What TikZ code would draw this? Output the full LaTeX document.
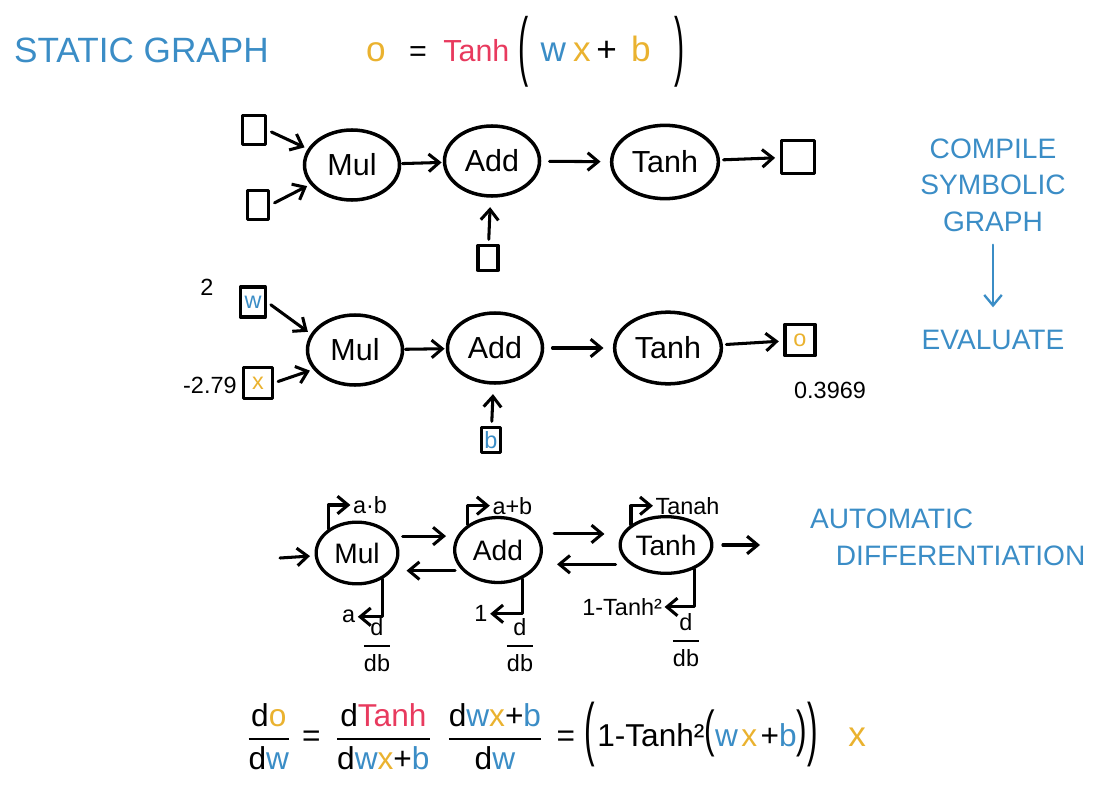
\documentclass[tikz,border=0pt]{standalone}
\usepackage{amsmath}
\usepackage{graphicx}
\usepackage{fontspec}
\setmainfont{Liberation Sans}
\usetikzlibrary{shapes.geometric,arrows.meta,positioning}
\definecolor{skblue}{HTML}{3B8DC6}
\definecolor{skred}{HTML}{E83A5E}
\definecolor{skyel}{HTML}{EAB22F}
\newcommand{\tallparen}[3]{\raisebox{#1}{\scalebox{1}[#2]{#3}}}
\newcommand{\dfr}[3][1.8pt]{\(\genfrac{}{}{#1}{0}{\mbox{#2}}{\mbox{#3}}\)}
\begin{document}
\begin{tikzpicture}[x=0.03cm,y=-0.03cm,>={Straight Barb[length=9pt,width=15pt]},
  line cap=round,line join=round,
  op/.style={draw,ellipse,line width=3pt,inner sep=0pt,minimum width=2.85cm,
    minimum height=2.1cm,font=\fontsize{26}{28}\selectfont},
  smallop/.style={op,line width=2.8pt,minimum width=2.45cm,minimum height=1.85cm,font=\fontsize{24}{26}\selectfont},
  val/.style={draw,line width=2.6pt,inner sep=0pt,font=\fontsize{20}{22}\selectfont},
  flow/.style={->,line width=2.6pt},
  note/.style={font=\fontsize{20}{22}\selectfont,inner sep=1pt},
  caps/.style={text=skblue,font=\fontsize{24}{31}\selectfont,align=center}]
 \useasboundingbox (0,0) rectangle (1102,788);

 % heading and the model
 \node[caps,anchor=west,font=\fontsize{30}{32}\selectfont] (static) at (10,50) {STATIC GRAPH};
 \node[anchor=west,font=\fontsize{26}{28}\selectfont] (model) at (362,52)
  {{\fontsize{30}{32}\selectfont\textcolor{skyel}{o}}\hspace{20pt}=\hspace{14pt}\textcolor{skred}{Tanh}\hspace{8pt}\tallparen{-9pt}{2.5}{(}\hspace{10pt}%
   {\fontsize{30}{32}\selectfont\textcolor{skblue}{w}\hspace{6pt}\textcolor{skyel}{x}\hspace{5pt}+\hspace{12pt}\textcolor{skyel}{b}}\hspace{20pt}\tallparen{-9pt}{2.5}{)}};

 % symbolic graph
 \node[op] (mul1) at (352,165) {Mul};
 \node[op] (add1) at (492,161) {Add};
 \node[op,minimum width=3.2cm,minimum height=2.2cm] (tanh1) at (665,162) {Tanh};
 \node[val,minimum width=0.7cm,minimum height=0.85cm] (w1) at (254,130) {};
 \node[val,minimum width=0.65cm,minimum height=0.85cm] (x1) at (258,205) {};
 \node[val,minimum width=0.6cm,minimum height=0.75cm] (b1) at (488,258) {};
 \node[val,minimum width=1cm,minimum height=1cm] (o1) at (798,157) {};
 \draw[flow,shorten <=4pt,shorten >=3pt] (w1.east) -- (mul1.160);
 \draw[flow,shorten <=4pt,shorten >=3pt] (x1.east) -- (mul1.205);
 \draw[flow,shorten <=1pt,shorten >=1pt] (mul1) -- (add1);
 \draw[flow,shorten <=7pt,shorten >=8pt] (add1) -- (tanh1);
 \draw[flow,shorten <=3pt,shorten >=4pt] (tanh1) -- (o1);
 \draw[flow,shorten <=4pt,shorten >=8pt] (b1) -- (add1);

 % evaluated graph
 \node[op] (mul2) at (355,350) {Mul};
 \node[op] (add2) at (495,348) {Add};
 \node[op,minimum width=3.2cm,minimum height=2.15cm] (tanh2) at (668,348) {Tanh};
 \node[val,minimum width=0.75cm,minimum height=0.9cm,text=skblue] (w2) at (253,302) {w};
 \node[val,minimum width=0.85cm,minimum height=0.95cm,text=skyel] (x2) at (258,383) {x};
 \node[val,minimum width=0.55cm,minimum height=0.75cm,text=skblue] (b2) at (491,440) {b};
 \node[val,minimum width=0.9cm,minimum height=0.95cm,text=skyel] (o2) at (800,340) {o};
 \node[note] (wval) at (207,287) {2};
 \node[note,anchor=east] (xval) at (238,385) {-2.79};
 \node[note] (oval) at (830,390) {0.3969};
 \draw[flow,shorten <=4pt,shorten >=3pt] (w2.east) -- (mul2.160);
 \draw[flow,shorten <=4pt,shorten >=3pt] (x2.east) -- (mul2.205);
 \draw[flow,shorten <=1pt,shorten >=1pt] (mul2) -- (add2);
 \draw[flow,shorten <=7pt,shorten >=8pt] (add2) -- (tanh2);
 \draw[flow,shorten <=3pt,shorten >=4pt] (tanh2) -- (o2);
 \draw[flow,shorten <=4pt,shorten >=8pt] (b2) -- (add2);

 % forward and backward pass
 \node[smallop] (mul3) at (357,553) {Mul};
 \node[smallop,minimum width=2.6cm,minimum height=1.95cm] (add3) at (498,550) {Add};
 \node[smallop,minimum width=2.75cm,minimum height=1.7cm] (tanh3) at (666,545) {Tanh};
 \coordinate (in3) at (280,558);
 \coordinate (out3) at (760,545);
 \draw[flow,shorten >=4pt] (in3) -- (mul3);
 \draw[flow,shorten <=8pt,shorten >=6pt] (mul3.25) -- (mul3.25 -| add3.west);
 \draw[flow,shorten <=6pt,shorten >=6pt] (add3.210) -- (add3.210 -| mul3.east);
 \draw[flow,shorten <=14pt,shorten >=12pt] (add3.22) -- (add3.22 -| tanh3.west);
 \draw[flow,shorten <=12pt,shorten >=12pt] (tanh3.208) -- (tanh3.208 -| add3.east);
 \draw[flow,shorten <=8pt] (tanh3) -- (out3);
 \draw[flow] (mul3.140) -- ++(0,-24) -- ++(22,0) node[note,right] (mulfw) {a·b};
 \draw[flow] (add3.140) -- ++(0,-19) -- ++(22,0) node[note,right] (addfw) {a+b};
 \draw[flow] (tanh3.150) -- ++(0,-19) -- ++(22,0) node[note,right] (tanhfw) {Tanah};
 \draw[flow] (mul3.-45) -- ++(0,38) -- ++(-25,0) node[note,left] (mulbw) {a};
 \draw[flow] (add3.-50) -- ++(0,35) -- ++(-32,0) node[note,left] (addbw) {1};
 \draw[flow] (tanh3.-40) -- ++(0,38) -- ++(-30,0) node[note,left] (tanhbw) {1-Tanh²};
 \node[note] (dmul) at (377,645) {\dfr[2pt]{d}{db}};
 \node[note] (dadd) at (520,645) {\dfr[2pt]{d}{db}};
 \node[note] (dtanh) at (686,640) {\dfr[2pt]{d}{db}};

 % chain rule
 \node[font=\fontsize{27}{30}\selectfont,anchor=west] (chain) at (243,736)
  {\dfr{d\textcolor{skyel}{o}}{d\textcolor{skblue}{w}}\hspace{10pt}=\hspace{13pt}%
   \dfr{d\textcolor{skred}{Tanh}}{d\textcolor{skblue}{w}\textcolor{skyel}{x}+\textcolor{skblue}{b}}\hspace{14pt}%
   \dfr{d\textcolor{skblue}{w}\textcolor{skyel}{x}+\textcolor{skblue}{b}}{d\textcolor{skblue}{w}}\hspace{12pt}=\hspace{8pt}%
   \tallparen{-5pt}{2.2}{(}\hspace{2pt}1-Tanh²\tallparen{0pt}{1.6}{(}\textcolor{skblue}{w}\hspace{3pt}\textcolor{skyel}{x}\hspace{3pt}+\textcolor{skblue}{b}\tallparen{0pt}{1.6}{)}\tallparen{-5pt}{2.2}{)}\hspace{26pt}{\fontsize{30}{32}\selectfont\textcolor{skyel}{x}}};

 % side notes
 \node[caps] (compile) at (993,185) {COMPILE\\SYMBOLIC\\GRAPH};
 \node[caps] (evaluate) at (993,340) {EVALUATE};
 \draw[flow,skblue,line width=2pt,shorten <=8pt,shorten >=16pt] (compile) -- (evaluate);
 \node[caps,align=left,anchor=north west] (autodiff) at (806,505) {AUTOMATIC\\\hspace{22pt}DIFFERENTIATION};
\end{tikzpicture}
\end{document}
